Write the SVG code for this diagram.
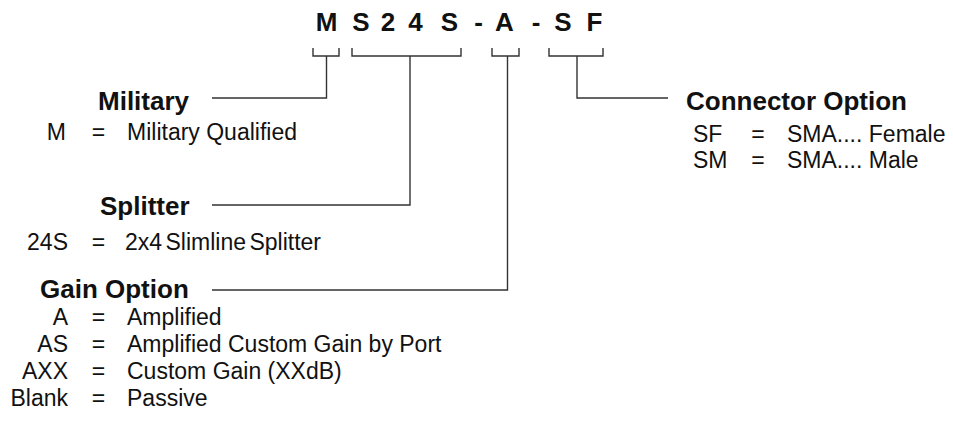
<svg xmlns="http://www.w3.org/2000/svg" width="953" height="441" viewBox="0 0 953 441">
<style>
text{font-family:"Liberation Sans",Arial,sans-serif;fill:#111}
.code{font-size:26px;font-weight:bold;text-anchor:middle}
.h{font-size:26px;font-weight:bold}
.t{font-size:23px}
.k{font-size:23px;text-anchor:end}
.eq{font-size:23px;text-anchor:middle}
.ln{fill:none;stroke:#333;stroke-width:1.4}
</style>
<rect width="953" height="441" fill="#fff"/>
<g id="code">
<text class="code" x="326.5" y="31">M</text>
<text class="code" x="361" y="31">S</text>
<text class="code" x="388" y="31">2</text>
<text class="code" x="415.5" y="31">4</text>
<text class="code" x="449.5" y="31">S</text>
<text class="code" x="478.5" y="31">-</text>
<text class="code" x="504.5" y="31">A</text>
<text class="code" x="536" y="31">-</text>
<text class="code" x="563" y="31">S</text>
<text class="code" x="594.5" y="31">F</text>
</g>
<g id="connectors">
<path class="ln" d="M313,48V56H339V48M326.5,56V98H212"/>
<path class="ln" d="M352,48V56H461V48M410,56V205H212"/>
<path class="ln" d="M492,48V56H519V48M507.5,56V290H212"/>
<path class="ln" d="M549,48V56H603V48M577,56V98H668"/>
</g>
<g id="military">
<text class="h" x="98" y="110">Military</text>
<text class="k" x="66" y="140">M</text>
<text class="eq" x="98.5" y="140">=</text>
<text class="t" x="127" y="140">Military Qualified</text>
</g>
<g id="splitter">
<text class="h" x="100" y="215">Splitter</text>
<text class="k" x="68" y="250">24S</text>
<text class="eq" x="98.5" y="250">=</text>
<text class="t" x="125" y="250" word-spacing="-3">2x4 Slimline Splitter</text>
</g>
<g id="gain">
<text class="h" x="40" y="298">Gain Option</text>
<text class="k" x="68" y="325">A</text>
<text class="eq" x="98.5" y="325">=</text>
<text class="t" x="127" y="325">Amplified</text>
<text class="k" x="68" y="352">AS</text>
<text class="eq" x="98.5" y="352">=</text>
<text class="t" x="127" y="352">Amplified Custom Gain by Port</text>
<text class="k" x="68" y="379">AXX</text>
<text class="eq" x="98.5" y="379">=</text>
<text class="t" x="127" y="379">Custom Gain (XXdB)</text>
<text class="k" x="68" y="406">Blank</text>
<text class="eq" x="98.5" y="406">=</text>
<text class="t" x="127" y="406">Passive</text>
</g>
<g id="connector">
<text class="h" x="686" y="110">Connector Option</text>
<text class="t" x="693" y="142">SF</text>
<text class="eq" x="758" y="142">=</text>
<text class="t" x="787" y="142">SMA.... Female</text>
<text class="t" x="693" y="168">SM</text>
<text class="eq" x="758" y="168">=</text>
<text class="t" x="787" y="168">SMA.... Male</text>
</g>
</svg>
